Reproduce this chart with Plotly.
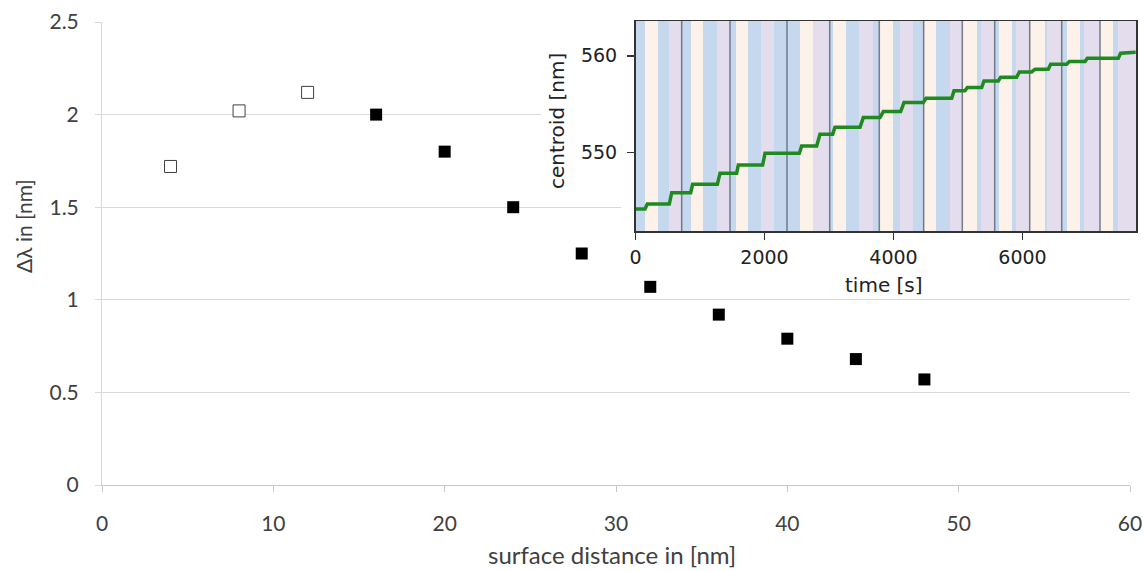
import plotly.graph_objects as go

# ---------------- main chart data ----------------
dist_open = [4, 8, 12]
dlam_open = [1.72, 2.02, 2.12]
dist_fill = [16, 20, 24, 28, 32, 36, 40, 44, 48]
dlam_fill = [2.00, 1.80, 1.50, 1.25, 1.07, 0.92, 0.79, 0.68, 0.57]
x_ticks = [0, 10, 20, 30, 40, 50, 60]
y_ticks = [0, 0.5, 1, 1.5, 2, 2.5]

# ---------------- inset data ----------------
cen_time = [0, 147, 183, 524, 561, 855, 886, 1269, 1310, 1568, 1594, 1971, 2008, 2540,
            2576, 2809, 2860, 3057, 3093, 3481, 3532, 3791, 3842, 4111, 4163, 4462,
            4504, 4902, 4938, 5108, 5145, 5367, 5403, 5625, 5661, 5909, 5951, 6142,
            6194, 6400, 6437, 6685, 6726, 6969, 7005, 7486, 7522, 7755]
cen_value = [544.17, 544.17, 544.69, 544.69, 545.86, 545.86, 546.72, 546.72, 547.86, 547.86,
             548.72, 548.72, 549.93, 549.93, 550.69, 550.69, 551.90, 551.90, 552.62, 552.62,
             553.62, 553.62, 554.24, 554.24, 555.17, 555.17, 555.62, 555.62, 556.38, 556.38,
             556.72, 556.72, 557.41, 557.41, 557.79, 557.79, 558.34, 558.34, 558.62, 558.62,
             559.14, 559.14, 559.41, 559.41, 559.76, 559.76, 560.28, 560.38]
stripe_edges = [0, 147, 353, 519, 716, 856, 1042, 1259, 1465, 1553, 1744, 1950, 2143, 2546,
                2752, 3011, 3062, 3263, 3470, 3678, 3780, 3997, 4101, 4298, 4468, 4659, 4876,
                5067, 5300, 5353, 5569, 5636, 5842, 5894, 6112, 6349, 6375, 6608, 6685, 6892,
                6954, 7202, 7408, 7486, 7760]
stripe_kind = ["B", "C", "B", "L", "B", "C", "B", "L", "B", "C", "B", "L", "B", "C", "L",
               "B", "C", "B", "L", "B", "C", "B", "L", "B", "C", "B", "L", "C", "B", "L",
               "B", "C", "B", "L", "C", "B", "L", "B", "C", "B", "L", "C", "B", "L"]
marker_lines = [716, 1465, 2349, 3011, 3780, 4468, 5067, 5569, 6112, 6608, 7202]
inset_xticks = [0, 2000, 4000, 6000]
inset_yticks = [550, 560]

W, H = 1145, 571
kind_color = {"B": "#c5d8ee", "C": "#fdf2e9", "L": "#e3dded"}
MAIN_FONT = "Lato"
INSET_FONT = "DejaVu Sans"
TXT = "#404040"
INK = "#222222"


def px_x(p):
    return min(1.0, max(0.0, p / W))


def px_y(p):
    return min(1.0, max(0.0, 1 - p / H))


fig = go.Figure()

# main chart markers
fig.add_trace(go.Scatter(x=dist_open, y=dlam_open, mode="markers",
                         marker=dict(symbol="square", size=12, color="white",
                                     line=dict(color="#404040", width=1)),
                         xaxis="x", yaxis="y", hoverinfo="skip"))
fig.add_trace(go.Scatter(x=dist_fill, y=dlam_fill, mode="markers",
                         marker=dict(symbol="square", size=12, color="black",
                                     line=dict(width=0)),
                         xaxis="x", yaxis="y", hoverinfo="skip"))

# empty subplots whose white backgrounds hide the main gridlines behind the inset
fig.add_trace(go.Scatter(x=[None], y=[None], mode="lines", xaxis="x2", yaxis="y2",
                         hoverinfo="skip"))
fig.add_trace(go.Scatter(x=[None], y=[None], mode="lines", xaxis="x3", yaxis="y3",
                         hoverinfo="skip"))

# inset stripes as bars
y_lo, y_hi = 541.9, 563.6
centers = [(stripe_edges[i] + stripe_edges[i + 1]) / 2 for i in range(len(stripe_kind))]
widths = [stripe_edges[i + 1] - stripe_edges[i] for i in range(len(stripe_kind))]
fig.add_trace(go.Bar(x=centers, y=[y_hi - y_lo] * len(centers), base=y_lo, width=widths,
                     marker=dict(color=[kind_color[k] for k in stripe_kind], line=dict(width=0)),
                     xaxis="x4", yaxis="y4", hoverinfo="skip"))

# dark vertical marker lines
lx, ly = [], []
for t in marker_lines:
    lx += [t, t, None]
    ly += [y_lo, y_hi, None]
fig.add_trace(go.Scatter(x=lx, y=ly, mode="lines",
                         line=dict(color="rgba(95,105,120,0.85)", width=1.5),
                         xaxis="x4", yaxis="y4", hoverinfo="skip"))

# green centroid trace
fig.add_trace(go.Scatter(x=cen_time, y=cen_value, mode="lines",
                         line=dict(color="#1f8a1f", width=3.5),
                         xaxis="x4", yaxis="y4", hoverinfo="skip"))

hidden = dict(range=[0, 1], visible=False, fixedrange=True)

fig.update_layout(
    width=W, height=H, template="none",
    margin=dict(l=0, r=0, t=0, b=0),
    paper_bgcolor="white", plot_bgcolor="white", showlegend=False, bargap=0,
    xaxis=dict(domain=[px_x(102), px_x(1130)], range=[0, 60], tickvals=x_ticks,
               showgrid=False, zeroline=False, showline=True, linecolor="#c8c8c8",
               linewidth=1, ticks="outside", ticklen=6, tickcolor="#c8c8c8",
               tickfont=dict(family=MAIN_FONT, size=21, color=TXT),
               ticklabelstandoff=14, anchor="y", fixedrange=True),
    yaxis=dict(domain=[px_y(485), px_y(22)], range=[0, 2.5], tickvals=y_ticks,
               showgrid=True, gridcolor="#d9d9d9", gridwidth=1, zeroline=False,
               showline=True, linecolor="#d9d9d9", linewidth=1, ticks="outside",
               ticklen=6, tickcolor="#d9d9d9",
               tickfont=dict(family=MAIN_FONT, size=21, color=TXT),
               ticklabelstandoff=12, anchor="x", fixedrange=True),
    xaxis2=dict(domain=[px_x(621), 1.0], anchor="y2", **hidden),
    yaxis2=dict(domain=[px_y(278), px_y(14)], anchor="x2", **hidden),
    xaxis3=dict(domain=[px_x(541), px_x(621)], anchor="y3", **hidden),
    yaxis3=dict(domain=[px_y(198), px_y(33)], anchor="x3", **hidden),
    xaxis4=dict(domain=[px_x(635.5), px_x(1136)], range=[0, 7760], tickvals=inset_xticks,
                showgrid=False, zeroline=False, showline=True, mirror=True,
                linecolor="#333333", linewidth=1.5, ticks="outside", ticklen=7,
                tickcolor="#333333", tickwidth=1.5,
                tickfont=dict(family=INSET_FONT, size=19, color=INK),
                ticklabelstandoff=2, anchor="y4", fixedrange=True),
    yaxis4=dict(domain=[px_y(231), px_y(21)], range=[y_lo, y_hi], tickvals=inset_yticks,
                showgrid=False, zeroline=False, showline=True, mirror=True,
                linecolor="#333333", linewidth=1.5, ticks="outside", ticklen=7,
                tickcolor="#333333", tickwidth=1.5,
                tickfont=dict(family=INSET_FONT, size=19, color=INK),
                ticklabelstandoff=6, anchor="x4", fixedrange=True),
    annotations=[
        dict(text="surface distance in [nm]", x=px_x(612), y=px_y(554), xref="paper",
             yref="paper", showarrow=False, xanchor="center", yanchor="middle",
             font=dict(family=MAIN_FONT, size=24, color=TXT)),
        dict(text="Δλ in [nm]", x=px_x(24), y=px_y(226), xref="paper", yref="paper",
             showarrow=False, xanchor="center", yanchor="middle", textangle=-90,
             font=dict(family=MAIN_FONT, size=21, color=TXT)),
        dict(text="centroid [nm]", x=px_x(557), y=px_y(121), xref="paper", yref="paper",
             showarrow=False, xanchor="center", yanchor="middle", textangle=-90,
             font=dict(family=INSET_FONT, size=20, color=INK)),
        dict(text="time [s]", x=px_x(884), y=px_y(285), xref="paper", yref="paper",
             showarrow=False, xanchor="center", yanchor="middle",
             font=dict(family=INSET_FONT, size=20, color=INK)),
    ],
)

fig.write_html("out.html",
               config={"displayModeBar": False, "staticPlot": True},
               post_script="document.body.style.margin='0';"
                           "document.body.style.overflow='hidden';")
